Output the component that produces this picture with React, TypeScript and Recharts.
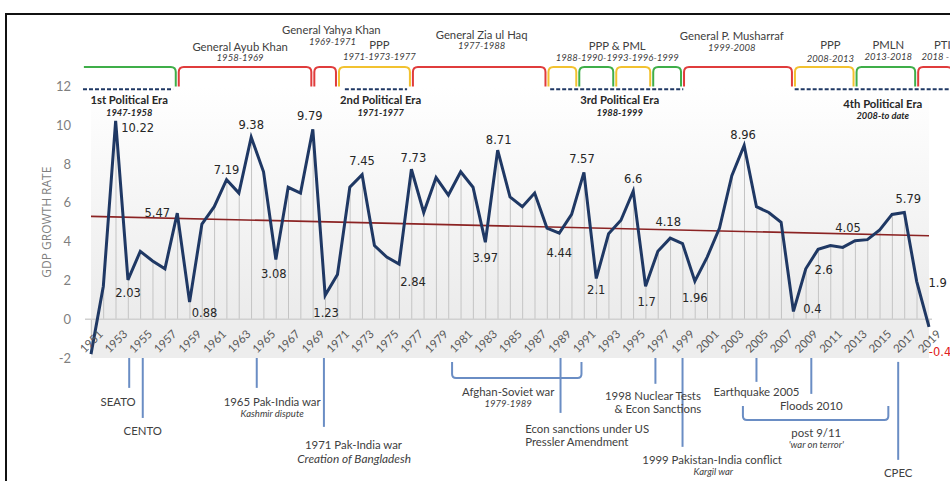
import {
  ComposedChart,
  Line,
  Bar,
  XAxis,
  YAxis,
  ReferenceLine,
  ReferenceArea,
  ReferenceDot,
  LabelList,
} from "recharts";

// GDP growth rate of Pakistan, year by year
const years = [
  1951, 1952, 1953, 1954, 1955, 1956, 1957, 1958, 1959, 1960, 1961, 1962, 1963, 1964, 1965, 1966, 1967,
  1968, 1969, 1970, 1971, 1972, 1973, 1974, 1975, 1976, 1977, 1978, 1979, 1980, 1981, 1982, 1983, 1984,
  1985, 1986, 1987, 1988, 1989, 1990, 1991, 1992, 1993, 1994, 1995, 1996, 1997, 1998, 1999, 2000, 2001,
  2002, 2003, 2004, 2005, 2006, 2007, 2008, 2009, 2010, 2011, 2012, 2013, 2014, 2015, 2016, 2017, 2018,
  2019,
];
const gdp = [
  -1.8, 1.7, 10.22, 2.03, 3.5, 3.0, 2.6, 5.47, 0.88, 4.9, 5.8, 7.19, 6.5, 9.38, 7.6, 3.08, 6.8,
  6.5, 9.79, 1.23, 2.3, 6.8, 7.45, 3.8, 3.2, 2.84, 7.73, 5.5, 7.3, 6.4, 7.6, 6.8, 3.97, 8.71,
  6.3, 5.8, 6.5, 4.7, 4.44, 5.4, 7.57, 2.1, 4.4, 5.1, 6.6, 1.7, 3.5, 4.18, 3.9, 1.96, 3.2,
  4.7, 7.4, 8.96, 5.8, 5.5, 5.0, 0.4, 2.6, 3.6, 3.8, 3.7, 4.05, 4.1, 4.6, 5.4, 5.5, 1.95,
  -0.4,
];

const labelYears = [
  1953, 1954, 1958, 1959, 1962, 1964, 1966, 1969, 1970, 1973, 1976, 1977, 1983, 1984, 1989, 1991,
  1992, 1995, 1996, 1998, 2000, 2004, 2008, 2009, 2013, 2017, 2018, 2019,
];
const labelTexts = [
  "10.22", "2.03", "5.47", "0.88", "7.19", "9.38", "3.08", "9.79", "1.23", "7.45", "2.84", "7.73",
  "3.97", "8.71", "4.44", "7.57", "2.1", "6.6", "1.7", "4.18", "1.96", "8.96", "0.4", "2.6", "4.05",
  "5.79", "1.9", "-0.4",
];
// where each value label sits relative to its point (px)
const labelOffsets = [
  [22, 7], [0, 13], [-20, 0], [15, 11], [0, -10], [0, -12], [-2, 15], [-3, -13], [1, 18], [0, -14],
  [14, 18], [2, -11], [0, 16], [1, -10], [0, 20], [-2, -13], [0, 12], [0, -12], [1, 16], [-2, -16],
  [0, 17], [-1, -10], [19, -2], [18, 1], [-7, -13], [4, -14], [21, 2], [11, 25],
];

const xTicks = [
  1951, 1953, 1955, 1957, 1959, 1961, 1963, 1965, 1967, 1969, 1971, 1973, 1975, 1977, 1979, 1981, 1983,
  1985, 1987, 1989, 1991, 1993, 1995, 1997, 1999, 2001, 2003, 2005, 2007, 2009, 2011, 2013, 2015, 2017,
  2019,
];
const yTicks = [-2, 0, 2, 4, 6, 8, 10, 12];

const trendYears = [1951, 2019];
const trendValues = [5.3, 4.3];

// governments above the plot: [from, to, party colour]
const govFrom = [1950.3, 1958, 1969, 1971, 1977, 1988, 1990.5, 1993.5, 1996.5, 1999, 2008, 2013, 2018];
const govTo = [1958, 1969, 1971, 1977, 1988, 1990.5, 1993.5, 1996.5, 1999, 2008, 2013, 2018, 2021];
const govKind = ["civil", "army", "army", "ppp", "army", "ppp", "civil", "ppp", "civil", "army", "ppp", "civil", "army"];
const kindColor: Record<string, string> = { civil: "#3fae49", army: "#e03c3c", ppp: "#f2c230" };

const eraFrom = [1950.35, 1971.6, 1988.26, 2008.1];
const eraTo = [1957.66, 1976.65, 1999.06, 2020.7];

type Note = { text: string; year: number; level: number; kind: string; anchor?: "start" | "middle" };

const rulerNotes: Note[] = [
  { text: "General Ayub Khan", year: 1963.1, level: 14.08, kind: "ruler" },
  { text: "1958-1969", year: 1963.1, level: 13.49, kind: "term" },
  { text: "General Yahya Khan", year: 1970.5, level: 14.94, kind: "ruler" },
  { text: "1969-1971", year: 1970.6, level: 14.29, kind: "term" },
  { text: "PPP", year: 1974.4, level: 14.14, kind: "ruler" },
  { text: "1971-1973-1977", year: 1974.4, level: 13.52, kind: "term" },
  { text: "General Zia ul Haq", year: 1982.7, level: 14.7, kind: "ruler" },
  { text: "1977-1988", year: 1982.7, level: 14.09, kind: "term" },
  { text: "PPP & PML", year: 1993.7, level: 14.11, kind: "ruler" },
  { text: "1988-1990-1993-1996-1999", year: 1993.7, level: 13.49, kind: "term" },
  { text: "General P. Musharraf", year: 2003.0, level: 14.63, kind: "ruler" },
  { text: "1999-2008", year: 2003.0, level: 14.0, kind: "term" },
  { text: "PPP", year: 2011.0, level: 14.16, kind: "ruler" },
  { text: "2008-2013", year: 2011.0, level: 13.46, kind: "term" },
  { text: "PMLN", year: 2015.7, level: 14.16, kind: "ruler" },
  { text: "2013-2018", year: 2015.7, level: 13.52, kind: "term" },
  { text: "PTI", year: 2019.4, level: 14.16, kind: "ruler", anchor: "start" },
  { text: "2018 -", year: 2018.4, level: 13.52, kind: "term", anchor: "start" },
];

const eraNotes: Note[] = [
  { text: "1st Political Era", year: 1954.1, level: 11.3, kind: "era" },
  { text: "1947-1958", year: 1954.1, level: 10.66, kind: "eraYears" },
  { text: "2nd Political Era", year: 1974.5, level: 11.3, kind: "era" },
  { text: "1971-1977", year: 1974.5, level: 10.66, kind: "eraYears" },
  { text: "3rd Political Era", year: 1993.9, level: 11.3, kind: "era" },
  { text: "1988-1999", year: 1993.9, level: 10.66, kind: "eraYears" },
  { text: "4th Political Era", year: 2015.25, level: 11.13, kind: "era" },
  { text: "2008-to date", year: 2015.25, level: 10.5, kind: "eraYears" },
];

const eventNotes: Note[] = [
  { text: "SEATO", year: 1953.2, level: -4.26, kind: "note" },
  { text: "CENTO", year: 1955.2, level: -5.76, kind: "note" },
  { text: "1965 Pak-India war", year: 1965.7, level: -4.26, kind: "note" },
  { text: "Kashmir dispute", year: 1965.7, level: -4.88, kind: "noteSub" },
  { text: "1971 Pak-India war", year: 1972.3, level: -6.47, kind: "note" },
  { text: "Creation of Bangladesh", year: 1972.35, level: -7.18, kind: "noteItalic" },
  { text: "Afghan-Soviet war", year: 1984.85, level: -3.75, kind: "note" },
  { text: "1979-1989", year: 1984.85, level: -4.37, kind: "noteSub" },
  { text: "Econ sanctions under US", year: 1986.23, level: -5.65, kind: "note", anchor: "start" },
  { text: "Pressler Amendment", year: 1986.23, level: -6.28, kind: "note", anchor: "start" },
  { text: "1998 Nuclear Tests", year: 1996.6, level: -3.95, kind: "note" },
  { text: "& Econ Sanctions", year: 1997.0, level: -4.62, kind: "note" },
  { text: "1999 Pakistan-India conflict", year: 2001.4, level: -7.25, kind: "note" },
  { text: "Kargil war", year: 2001.5, level: -7.87, kind: "noteSub" },
  { text: "Earthquake 2005", year: 2005.0, level: -3.75, kind: "note" },
  { text: "Floods 2010", year: 2009.45, level: -4.47, kind: "note" },
  { text: "post 9/11", year: 2009.85, level: -5.86, kind: "note" },
  { text: "'war on terror'", year: 2009.85, level: -6.48, kind: "noteSub" },
  { text: "CPEC", year: 2016.5, level: -7.92, kind: "note" },
];

// event markers below the axis
const eventYears = [1954.1, 1955.2, 1964.45, 1969.9, 1989.1, 1996.8, 1999.0, 2005.0, 2009.45, 2016.5];
const eventTop = [-2, -2, -2, -2, -2, -2, -2, -2, -2, -2.2];
const eventBottom = [-3.54, -5.09, -3.54, -5.55, -4.83, -3.33, -6.58, -3.23, -3.85, -7.25];
const spanFrom = [1980.3, 2003.9];
const spanTo = [1990.8, 2015.7];
const spanTop = [-2.2, -4.47];
const spanBottom = [-3.03, -5.19];

const data = years.map((year, i) => {
  const li = labelYears.indexOf(year);
  return { year, gdp: gdp[i], label: li >= 0 ? labelTexts[li] : null };
});

const SANS = "Lato, 'Open Sans', sans-serif";
const noteStyle: Record<string, any> = {
  ruler: { fontSize: 11.3, fill: "#404040" },
  term: { fontSize: 9.5, fill: "#404040", fontStyle: "italic" },
  era: { fontSize: 11.3, fill: "#262626", fontWeight: 700 },
  eraYears: { fontSize: 9.3, fill: "#262626", fontWeight: 700, fontStyle: "italic" },
  note: { fontSize: 11.4, fill: "#404040" },
  noteSub: { fontSize: 9.5, fill: "#404040", fontStyle: "italic" },
  noteItalic: { fontSize: 11.8, fill: "#404040", fontStyle: "italic" },
};

const textShape = (n: Note) => (p: any) => (
  <text
    x={p.cx}
    y={p.cy}
    textAnchor={n.anchor || "middle"}
    dominantBaseline="central"
    fontFamily={SANS}
    {...noteStyle[n.kind]}
  >
    {n.text}
  </text>
);

const topBracket = (color: string, openLeft: boolean) => (p: any) => {
  const { x, y, width, height } = p;
  const r = 5;
  const a = x + 1.5;
  const b = x + width - 1.5;
  const d = openLeft
    ? `M${a},${y} L${b - r},${y} Q${b},${y} ${b},${y + r} L${b},${y + height}`
    : `M${a},${y + height} L${a},${y + r} Q${a},${y} ${a + r},${y} L${b - r},${y} Q${b},${y} ${b},${y + r} L${b},${y + height}`;
  return <path d={d} fill="none" stroke={color} strokeWidth={2} />;
};

const bottomBracket = (p: any) => {
  const { x, y, width, height } = p;
  const r = 4;
  const b = x + width;
  const e = y + height;
  const d = `M${x},${y} L${x},${e - r} Q${x},${e} ${x + r},${e} L${b - r},${e} Q${b},${e} ${b},${e - r} L${b},${y}`;
  return <path d={d} fill="none" stroke="#6a8dc4" strokeWidth={2} />;
};

const YearTick = (p: any) => {
  const { x, y, payload } = p;
  const cy = y - 25;
  return (
    <text
      x={x}
      y={cy}
      transform={`rotate(-45 ${x} ${cy})`}
      textAnchor="middle"
      dominantBaseline="central"
      fontFamily={SANS}
      fontSize={11.5}
      fill="#595959"
    >
      {payload.value}
    </text>
  );
};

const ValueLabel = (p: any) => {
  const { x, y, value } = p;
  if (!value) return null;
  const i = labelTexts.indexOf(value);
  const [dx, dy] = labelOffsets[i];
  return (
    <text
      x={x + dx}
      y={y + dy}
      textAnchor="middle"
      dominantBaseline="central"
      fontFamily="'DejaVu Sans', sans-serif"
      fontSize={11.5}
      fill={value.startsWith("-") ? "#e02020" : "#262626"}
    >
      {value}
    </text>
  );
};

export default function App() {
  const allNotes = [...rulerNotes, ...eraNotes, ...eventNotes];
  return (
    <div style={{ position: "absolute", left: 0, top: 0, width: 950, height: 481, background: "#fff", overflow: "hidden" }}>
      <div
        style={{
          position: "absolute",
          left: 5,
          top: 13,
          width: 960,
          height: 480,
          borderTop: "2px solid #111",
          borderLeft: "2px solid #111",
        }}
      />
      <div style={{ position: "absolute", left: 0, top: 0 }}>
        <ComposedChart width={950} height={481} data={data} margin={{ top: 67, right: 18, bottom: 93, left: 0 }}>
          <defs>
            <linearGradient id="plotBg" x1="0" y1="0" x2="0" y2="1">
              <stop offset="0%" stopColor="#ffffff" />
              <stop offset="100%" stopColor="#ebebeb" />
            </linearGradient>
          </defs>
          <ReferenceArea y1={0} y2={12} fill="url(#plotBg)" fillOpacity={1} strokeWidth={0} ifOverflow="visible" />
          <ReferenceArea y1={-2} y2={0} fill="#ededed" fillOpacity={1} strokeWidth={0} ifOverflow="visible" />
          <ReferenceLine y={0} stroke="#d0d0d0" strokeWidth={1.5} />
          <XAxis
            dataKey="year"
            type="number"
            domain={[1951, 2019]}
            ticks={xTicks}
            interval={0}
            padding={{ left: 6, right: 3 }}
            axisLine={false}
            tickLine={false}
            height={30}
            tick={<YearTick />}
          />
          <YAxis
            domain={[-2, 13]}
            ticks={yTicks}
            interval={0}
            width={85}
            axisLine={false}
            tickLine={false}
            tickMargin={8}
            tick={{ fill: "#7f7f7f", fontSize: 13, fontFamily: SANS }}
          />
          <Bar dataKey="gdp" barSize={1} fill="#c4c4c4" isAnimationActive={false} />
          <ReferenceLine
            segment={[
              { x: trendYears[0], y: trendValues[0] },
              { x: trendYears[1], y: trendValues[1] },
            ]}
            stroke="#8b2323"
            strokeWidth={1.6}
            ifOverflow="visible"
          />
          <Line
            dataKey="gdp"
            type="linear"
            stroke="#1f3864"
            strokeWidth={3}
            dot={false}
            isAnimationActive={false}
          >
            <LabelList dataKey="label" content={<ValueLabel />} />
          </Line>

          {govFrom.map((from, i) => (
            <ReferenceArea
              key={`gov-${i}`}
              x1={from}
              x2={govTo[i]}
              y1={12}
              y2={13}
              ifOverflow="visible"
              shape={topBracket(kindColor[govKind[i]], i === 0)}
            />
          ))}
          {eraFrom.map((from, i) => (
            <ReferenceLine
              key={`era-${i}`}
              segment={[
                { x: from, y: 11.85 },
                { x: eraTo[i], y: 11.85 },
              ]}
              stroke="#1f3864"
              strokeWidth={2}
              strokeDasharray="4 2"
              ifOverflow="visible"
            />
          ))}
          {eventYears.map((yr, i) => (
            <ReferenceLine
              key={`ev-${i}`}
              segment={[
                { x: yr, y: eventTop[i] },
                { x: yr, y: eventBottom[i] },
              ]}
              stroke="#6a8dc4"
              strokeWidth={2}
              ifOverflow="visible"
            />
          ))}
          {spanFrom.map((from, i) => (
            <ReferenceArea
              key={`span-${i}`}
              x1={from}
              x2={spanTo[i]}
              y1={spanBottom[i]}
              y2={spanTop[i]}
              ifOverflow="visible"
              shape={bottomBracket}
            />
          ))}
          {allNotes.map((n, i) => (
            <ReferenceDot key={`note-${i}`} x={n.year} y={n.level} r={1} ifOverflow="visible" shape={textShape(n)} />
          ))}
          <ReferenceDot
            x={1947.4}
            y={5.0}
            r={1}
            ifOverflow="visible"
            shape={(p: any) => (
              <text
                x={p.cx}
                y={p.cy}
                transform={`rotate(-90 ${p.cx} ${p.cy})`}
                textAnchor="middle"
                dominantBaseline="central"
                fontFamily="'Liberation Sans Narrow', 'Open Sans', sans-serif"
                fontSize={12}
                fill="#7f7f7f"
              >
                GDP GROWTH RATE
              </text>
            )}
          />
        </ComposedChart>
      </div>
    </div>
  );
}
